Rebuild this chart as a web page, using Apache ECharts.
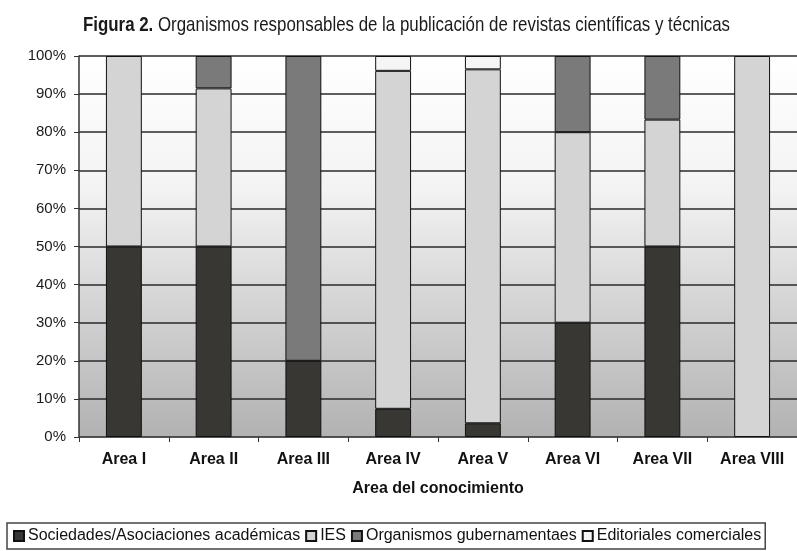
<!DOCTYPE html>
<html><head><meta charset="utf-8">
<script src="https://cdn.jsdelivr.net/npm/echarts@6/dist/echarts.min.js"></script>
<style>html,body{margin:0;padding:0;background:#fff}#c{width:797px;height:551px}</style>
</head><body><div id="c"></div>
<script>
var categories = ['Area I','Area II','Area III','Area IV','Area V','Area VI','Area VII','Area VIII'];
var sociedades = [50, 50, 20, 7.4, 3.6, 30, 50, 0];
var ies        = [50, 41.5, 0, 88.7, 92.9, 50, 33.3, 100];
var gobierno   = [0, 8.5, 80, 0, 0, 20, 16.7, 0];
var editoriales= [0, 0, 0, 3.9, 3.5, 0, 0, 0];
var yTicks = ['0%','10%','20%','30%','40%','50%','60%','70%','80%','90%','100%'];
var seriesNames = ['Sociedades/Asociaciones académicas','IES','Organismos gubernamentaes','Editoriales comerciales'];
var titleBold = 'Figura 2.';
var titleRest = ' Organismos responsables de la publicación de revistas científicas y técnicas';

var colors = ['#383733','#d4d4d4','#7a7a7a','#f5f5f5'];
var dataSets = [sociedades, ies, gobierno, editoriales];
var FONT = 'Liberation Sans, Arial, sans-serif';

// horizontal compression for the condensed title font
var cv = document.createElement('canvas').getContext('2d');
cv.font = 'bold 21px ' + FONT; var wB = cv.measureText(titleBold).width;
cv.font = '21px ' + FONT; var wR = cv.measureText(titleRest).width;
var titleW = 647, titleX = 83;
var sx = titleW / (wB + wR);

var chart = echarts.init(document.getElementById('c'), null, {renderer:'canvas'});
var series = dataSets.map(function(d,i){
  return {
    name: seriesNames[i], type:'bar', stack:'s', barWidth:'40%',
    data: d.map(function(v){ return v === 0 ? '-' : v; }),
    itemStyle:{color:colors[i], borderColor:'#111', borderWidth:1},
    emphasis:{disabled:true}
  };
});
chart.setOption({
  animation:false,
  graphic:[{
    type:'text', x:titleX, y:15, scaleX:sx, scaleY:1, silent:true,
    style:{
      text:'{b|' + titleBold + '}{n|' + titleRest + '}',
      rich:{
        b:{font:'bold 21px ' + FONT, fill:'#1a1a1a'},
        n:{font:'21px ' + FONT, fill:'#1a1a1a'}
      },
      verticalAlign:'top', align:'left'
    }
  }],
  legend:{
    data:seriesNames, left:7, top:523, orient:'horizontal',
    itemWidth:10, itemHeight:10, itemGap:5, icon:'rect',
    padding:[5,4,5,6],
    borderColor:'#444', borderWidth:1.5,
    textStyle:{fontFamily:FONT, fontSize:16, color:'#111', padding:[0,0,0,-1]}
  },
  grid:{left:79, right:-2, top:56, bottom:114, show:true, borderWidth:0,
    backgroundColor:new echarts.graphic.LinearGradient(0,0,0,1,[
      {offset:0,color:'#ffffff'},{offset:0.35,color:'#f3f3f3'},{offset:0.6,color:'#d9d9d9'},{offset:1,color:'#b2b2b2'}])
  },
  xAxis:{
    type:'category', data:categories,
    name:'Area del conocimiento', nameLocation:'middle', nameGap:44,
    nameTextStyle:{fontFamily:FONT, fontWeight:'bold', fontSize:16, color:'#111'},
    axisLine:{lineStyle:{color:'#555', width:1}},
    axisTick:{show:true, length:5, lineStyle:{color:'#333'}},
    axisLabel:{fontFamily:FONT, fontWeight:'bold', fontSize:16, color:'#111', margin:15}
  },
  yAxis:{
    type:'value', min:0, max:100, interval:10,
    axisLine:{show:true, lineStyle:{color:'#333', width:1.5}},
    axisTick:{show:true, length:5, lineStyle:{color:'#333'}},
    axisLabel:{formatter:function(v){return yTicks[Math.round(v/10)];}, fontFamily:FONT, fontSize:15, color:'#1a1a1a', margin:13},
    splitLine:{show:true, lineStyle:{color:'#2a2a2a', width:1.5}}
  },
  series:series
});
</script></body></html>
